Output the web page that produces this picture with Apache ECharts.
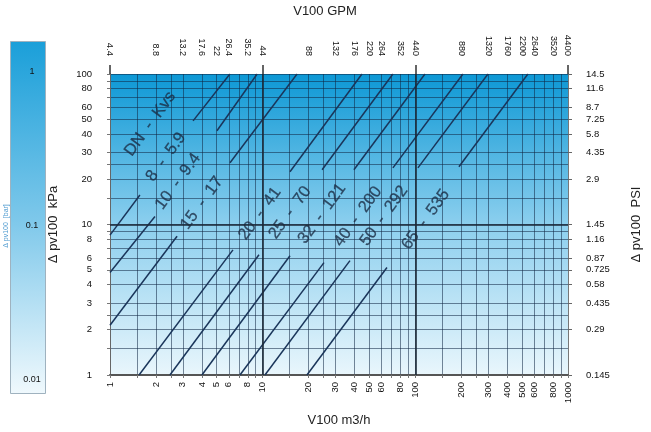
<!DOCTYPE html>
<html><head><meta charset="utf-8">
<script src="https://cdn.jsdelivr.net/npm/echarts@6/dist/echarts.min.js"></script>
<style>html,body{margin:0;padding:0;background:#fff}#c{width:651px;height:432px}</style>
</head><body><div id="c"></div>
<script>
// ---- data ----
const dnSizes   = [8, 10, 15, 20, 25, 32, 40, 50, 65];
const kvsValues = ['5.9', '9.4', '17', '41', '70', '121', '200', '292', '535'];
// each DN line drawn as two segments (broken where its label sits): [flow m3/h, Δp kPa]
const lowerStart = [[1, 8.5], [1, 4.8], [1, 2.14], [1.55, 1], [2.47, 1], [4.0, 1], [7.1, 1], [10.35, 1], [19.5, 1]];
const lowerEnd   = [[1.57, 15.7], [1.97, 11.3], [2.75, 8.36], [6.39, 6.78], [9.46, 6.29], [15.1, 6.2], [25.2, 5.58], [37.3, 5.75], [65.2, 5.18]];
const upperStart = [[3.5, 48.8], [5.02, 42], [6.11, 25.7], [15.1, 22.4], [24.5, 23.1], [39.6, 23.1], [71.3, 23.8], [104, 23.8], [193, 24.2]];
const upperEnd   = [[6.1, 100], [9.2, 100], [16.8, 100], [44.7, 100], [71.3, 100], [115.6, 100], [205, 100], [299, 100], [546, 100]];
const labelPos   = [[2.33, 28.1], [2.79, 19.3], [4.0, 13.9], [9.6, 11.8], [15.1, 12.0], [24.5, 11.8], [42.1, 11.3], [62.3, 11.4], [117, 10.8]];
const headerPos  = [1.83, 46.6];
const headerText = 'DN  -  Kvs';

// axis ticks / labels
const flowTicks = [1, 2, 3, 4, 5, 6, 8, 10, 20, 30, 40, 50, 60, 80, 100, 200, 300, 400, 500, 600, 800, 1000];
const gpmTicks  = [4.4, 8.8, 13.2, 17.6, 22, 26.4, 35.2, 44, 88, 132, 176, 220, 264, 352, 440, 880, 1320, 1760, 2200, 2640, 3520, 4400];
const gpmDecades = [4.4, 44, 440, 4400];
const kpaTicks  = [1, 2, 3, 4, 5, 6, 8, 10, 20, 30, 40, 50, 60, 80, 100];
const psiTicks  = [0.145, 0.29, 0.435, 0.58, 0.725, 0.87, 1.16, 1.45, 2.9, 4.35, 5.8, 7.25, 8.7, 11.6, 14.5];
const barTicks  = [0.01, 0.1, 1];
const gridFlow  = [1, 1.5, 2, 2.5, 3, 4, 5, 6, 7, 8, 9, 10, 15, 20, 25, 30, 40, 50, 60, 70, 80, 90, 100, 150, 200, 250, 300, 400, 500, 600, 700, 800, 900, 1000];
const gridKpa   = [1, 1.5, 2, 2.5, 3, 4, 5, 6, 7, 8, 9, 10, 15, 20, 25, 30, 40, 50, 60, 70, 80, 90, 100];
const thickFlow = [10, 100];
const thickKpa  = [10];

// ---- chart ----
const chart = echarts.init(document.getElementById('c'));
const fmt = v => String(+Number(v).toPrecision(4));
const FONT = 'Liberation Sans, Arial, sans-serif';
const gridColor = 'rgba(16,38,68,0.55)';

const segs = [];
dnSizes.forEach((d, i) => {
  segs.push({ coords: [lowerStart[i], lowerEnd[i]] });
  segs.push({ coords: [upperStart[i], upperEnd[i]] });
});
const labelData = dnSizes.map((d, i) => ({ value: labelPos[i], name: d + '  -  ' + kvsValues[i] }));
labelData.push({ value: headerPos, name: headerText });

const markLines = thickFlow.map(v => ({ xAxis: v })).concat(thickKpa.map(v => ({ yAxis: v })));

const option = {
  animation: false,
  textStyle: { fontFamily: FONT },
  graphic: [{
    type: 'rect', left: 10, top: 41, z: -1,
    shape: { width: 35, height: 352 },
    style: {
      fill: new echarts.graphic.LinearGradient(0, 0, 0, 1, [
        { offset: 0, color: '#1a9fd9' }, { offset: 0.5, color: '#7cc7ea' }, { offset: 1, color: '#f0f9fd' }]),
      stroke: '#9fb2bf', lineWidth: 1
    }
  }],
  grid: [
    { left: 110, right: 83, top: 72, bottom: 52, show: true, borderWidth: 0,
      backgroundColor: new echarts.graphic.LinearGradient(0, 0, 0, 1, [
        { offset: 0, color: '#0d98d5' }, { offset: 0.5, color: '#8ccfee' }, { offset: 1, color: '#e9f6fc' }]) },
    { left: 10, width: 35, top: 72, bottom: 52, show: false }
  ],
  xAxis: [
    { type: 'log', logBase: 10, min: 1, max: 1000, position: 'bottom', gridIndex: 0,
      name: 'V100 m3/h', nameLocation: 'middle', nameGap: 39,
      nameTextStyle: { fontSize: 13, color: '#222', fontFamily: FONT },
      axisLine: { show: true, lineStyle: { color: '#555', width: 2 } },
      axisTick: { show: true, customValues: gridFlow, length: 3, lineStyle: { color: '#777' } },
      axisLabel: { customValues: flowTicks, rotate: 90, fontSize: 9.5, color: '#111', margin: 7, formatter: fmt, fontFamily: FONT },
      splitLine: { show: true, lineStyle: { color: gridColor, width: 1 } } },
    { type: 'log', logBase: 10, min: 4.4, max: 4400, position: 'top', gridIndex: 0,
      name: 'V100 GPM', nameLocation: 'middle', nameGap: 56,
      nameTextStyle: { fontSize: 13, color: '#222', padding: [0, 28, 0, 0], fontFamily: FONT },
      axisLine: { show: false },
      axisTick: { show: true, customValues: gpmDecades, length: 9, lineStyle: { color: '#333', width: 1.5 } },
      axisLabel: { customValues: gpmTicks, rotate: 90, fontSize: 9, color: '#111', margin: 18, fontFamily: FONT,
        formatter: v => { const s = fmt(v); return gpmDecades.includes(+s) ? '{d|' + s + '}' : s; },
        rich: { d: { fontSize: 9.5, color: '#111', padding: [0, 0, 0, 5] } } },
      splitLine: { show: false } },
    { type: 'value', gridIndex: 1, show: false, min: 0, max: 1 }
  ],
  yAxis: [
    { type: 'log', logBase: 10, min: 1, max: 100, position: 'left', gridIndex: 0,
      name: 'Δ pv100  kPa', nameLocation: 'middle', nameGap: 50, nameRotate: 90,
      nameTextStyle: { fontSize: 13, color: '#222', fontFamily: FONT },
      axisLine: { show: true, lineStyle: { color: '#666', width: 1 } },
      axisTick: { show: true, customValues: gridKpa, length: 3, lineStyle: { color: '#777' } },
      axisLabel: { customValues: kpaTicks, fontSize: 9.5, color: '#111', margin: 18, formatter: fmt, fontFamily: FONT },
      splitLine: { show: true, lineStyle: { color: gridColor, width: 1 } } },
    { type: 'log', logBase: 10, min: 0.145, max: 14.5, position: 'right', gridIndex: 0,
      name: 'Δ pv100  PSI', nameLocation: 'middle', nameGap: 62, nameRotate: 90,
      nameTextStyle: { fontSize: 13, color: '#222', fontFamily: FONT },
      axisLine: { show: true, lineStyle: { color: '#777', width: 1 } },
      axisTick: { show: true, customValues: psiTicks, length: 4, lineStyle: { color: '#666' } },
      axisLabel: { customValues: psiTicks, fontSize: 9.5, color: '#111', margin: 18, formatter: fmt, fontFamily: FONT },
      splitLine: { show: false } },
    { type: 'log', logBase: 10, min: 0.01, max: 1, gridIndex: 1,
      name: 'Δ pv100  [bar]', nameLocation: 'middle', nameGap: -12, nameRotate: 90,
      nameTextStyle: { fontSize: 7, color: '#4f9bd0', fontFamily: FONT },
      axisLine: { show: false }, axisTick: { show: false },
      axisLabel: { customValues: barTicks, inside: true, align: 'center', margin: 22, fontSize: 9, color: '#111', formatter: fmt, fontFamily: FONT },
      splitLine: { show: false } }
  ],
  series: [
    { type: 'lines', coordinateSystem: 'cartesian2d', xAxisIndex: 0, yAxisIndex: 0, silent: true,
      lineStyle: { color: '#1a355a', width: 1.5, opacity: 1 }, data: segs },
    { type: 'scatter', xAxisIndex: 0, yAxisIndex: 0, symbolSize: 1, silent: true,
      itemStyle: { color: 'rgba(0,0,0,0)' },
      label: { show: true, formatter: '{b}', rotate: 54, position: 'inside', fontSize: 16.5, color: '#1a2c44',
        textBorderColor: '#1a2c44', textBorderWidth: 0.25, fontFamily: FONT },
      data: labelData,
      markLine: { silent: true, symbol: ['none', 'none'], label: { show: false },
        lineStyle: { color: '#1c2a38', width: 1.6, type: 'solid' }, data: markLines } }
  ]
};
chart.setOption(option);
</script></body></html>
